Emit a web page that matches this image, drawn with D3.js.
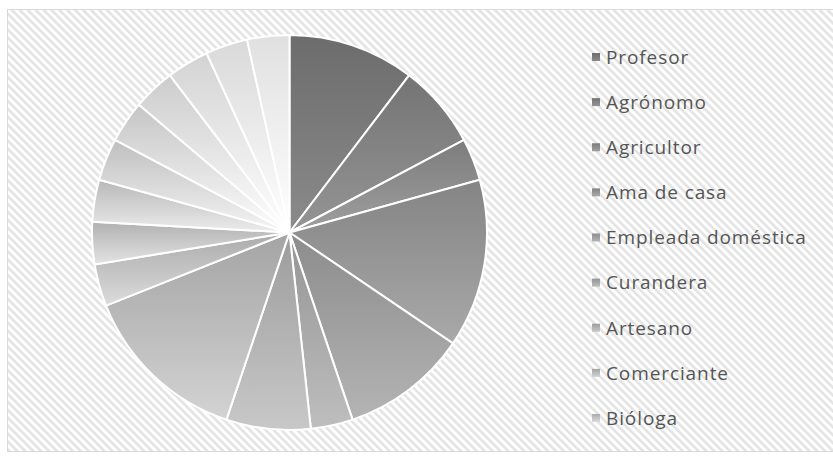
<!DOCTYPE html>
<html>
<head>
<meta charset="utf-8">
<script src="https://cdn.jsdelivr.net/npm/d3@7"></script>
<style>
  body { margin: 0; background: #fff; }
  svg text { font-family: "Open Sans", "Noto Sans", sans-serif; }
</style>
</head>
<body>
<svg id="chart"></svg>
<script>
(() => {

  // data (slice sizes in units of 1/29 of the pie)
  const categories = ['Profesor', 'Agrónomo', 'Agricultor', 'Ama de casa', 'Empleada doméstica',
    'Curandera', 'Artesano', 'Comerciante', 'Bióloga',
    'Otro 10', 'Otro 11', 'Otro 12', 'Otro 13', 'Otro 14', 'Otro 15', 'Otro 16', 'Otro 17'];
  const values = [3, 2, 1, 4, 3, 1, 2, 4, 1, 1, 1, 1, 1, 1, 1, 1, 1];
  const legendCount = 9; // only the first nine fit in the legend

  const svgWidth  = 833;
  const svgHeight = 461;
  const cx = 289.5, cy = 232.5, radius = 197.5;

  const svg = d3.select('#chart')
    .attr('width', svgWidth)
    .attr('height', svgHeight);

  const defs = svg.append('defs');

  // diagonal stripe background
  const pat = defs.append('pattern')
    .attr('id', 'stripes')
    .attr('patternUnits', 'userSpaceOnUse')
    .attr('width', 5.6)
    .attr('height', 5.6)
    .attr('patternTransform', 'rotate(-45)');
  pat.append('rect').attr('width', 5.6).attr('height', 5.6).attr('fill', '#ffffff');
  pat.append('rect').attr('width', 2.6).attr('height', 5.6).attr('fill', '#e3e3e3');

  svg.append('rect')
    .attr('x', 7.5).attr('y', 9.5)
    .attr('width', 826).attr('height', 442)
    .attr('fill', 'url(#stripes)')
    .attr('stroke', '#d9d9d9')
    .attr('stroke-width', 1);

  const data = categories.map((name, i) => ({ name, value: values[i] }));

  const shade = d3.scaleLinear()
    .domain([0, 7, data.length - 1])
    .range(['#6c6c6c', '#a4a4a4', '#e0e0e0'])
    .interpolate(d3.interpolateRgb);

  const grads = defs.selectAll('linearGradient')
    .data(data)
    .enter()
    .append('linearGradient')
    .attr('id', (d, i) => `g${i}`)
    .attr('x1', 0).attr('y1', 0).attr('x2', 0).attr('y2', 1);
  grads.append('stop').attr('offset', '0%')
    .attr('stop-color', (d, i) => shade(i));
  grads.append('stop').attr('offset', '100%')
    .attr('stop-color', (d, i) => d3.rgb(shade(i)).brighter(0.7).formatHex());

  const pie = d3.pie().sort(null).value(d => d.value);
  const arc = d3.arc().innerRadius(0).outerRadius(radius);

  const g = svg.append('g')
    .attr('transform', `translate(${cx}, ${cy})`);

  g.selectAll('path')
    .data(pie(data))
    .enter()
    .append('path')
    .attr('d', arc)
    .attr('fill', (d, i) => `url(#g${i})`)
    .attr('stroke', '#ffffff')
    .attr('stroke-width', 2)
    .attr('stroke-linejoin', 'round');

  // legend
  const legendY = d3.scalePoint()
    .domain(categories.slice(0, legendCount))
    .range([57, 418]);

  const items = svg.append('g')
    .selectAll('g')
    .data(data.slice(0, legendCount))
    .enter()
    .append('g')
    .attr('transform', d => `translate(592, ${legendY(d.name)})`);

  items.append('rect')
    .attr('x', 0).attr('y', -4)
    .attr('width', 8).attr('height', 8)
    .attr('fill', (d, i) => `url(#g${i})`);

  items.append('text')
    .attr('x', 14)
    .attr('dy', '0.36em')
    .attr('fill', '#555555')
    .attr('font-size', 19)
    .attr('letter-spacing', 0.9)
    .text(d => d.name);

})();
</script>
</body>
</html>
